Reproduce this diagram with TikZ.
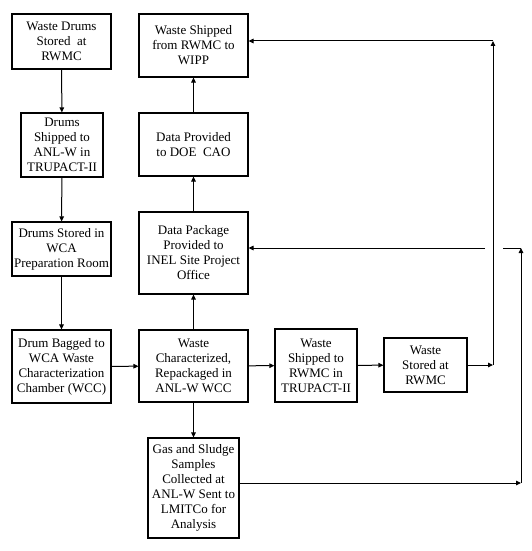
\documentclass[tikz,border=0pt]{standalone}
\usepackage{fontspec}
\setmainfont{Liberation Serif}
\usetikzlibrary{arrows.meta}
\tikzset{
  procbox/.style={draw,line width=1.1pt,align=center,inner sep=0pt,
    font=\fontsize{13}{15}\selectfont},
  flow/.style={line width=1pt,-{Triangle[length=5pt,width=4.5pt]}},
  plain/.style={line width=1pt}
}

\begin{document}
\begin{tikzpicture}[x=1pt,y=-1pt]
  \useasboundingbox (0,0) rectangle (531,551);
  % left column
  \node[procbox,minimum width=99,minimum height=55] (wdrums) at (61.5,41.5) {Waste Drums\\Stored\ \ at\\RWMC};
  \node[procbox,minimum width=82,minimum height=64] (dship) at (62,145) {Drums\\Shipped to\\ANL-W in\\TRUPACT-II};
  \node[procbox,minimum width=99,minimum height=54] (dstore) at (61.5,249) {Drums Stored in\\WCA\\Preparation Room};
  \node[procbox,minimum width=99,minimum height=73] (dbag) at (61.5,366.5) {Drum Bagged to\\WCA Waste\\Characterization\\Chamber (WCC)};
  % middle column
  \node[procbox,minimum width=109,minimum height=63] (wipp) at (193.5,45.5) {Waste Shipped\\from RWMC to\\WIPP};
  \node[procbox,minimum width=109,minimum height=63] (doe) at (193.5,144.5) {Data Provided\\to DOE\ \ CAO};
  \node[procbox,minimum width=109,minimum height=82] (dpkg) at (193.5,253) {Data Package\\Provided to\\INEL Site Project\\Office};
  \node[procbox,minimum width=109,minimum height=72] (wchar) at (193.5,366) {Waste\\Characterized,\\Repackaged in\\ANL-W WCC};
  \node[procbox,minimum width=91,minimum height=100] (gas) at (193.5,488) {Gas and Sludge\\Samples\\Collected at\\ANL-W Sent to\\LMITCo for\\Analysis};
  % right side
  \node[procbox,minimum width=82,minimum height=73] (wship) at (316,365.5) {Waste\\Shipped to\\RWMC in\\TRUPACT-II};
  \node[procbox,minimum width=83,minimum height=54] (wstore) at (425.5,365) {Waste\\Stored at\\RWMC};

  % corners of the return lines
  \coordinate (wturn) at (493,365);
  \coordinate (wtop) at (493,41);
  \coordinate (gturn) at (521,483);
  \coordinate (gtop) at (521,248);
  \coordinate (gapl) at (485,248);
  \coordinate (gapr) at (503,248);

  \draw[flow] (wdrums) -- (dship);
  \draw[flow] (dship) -- (dstore);
  \draw[flow] (dstore) -- (dbag);
  \draw[flow] (dbag) -- (wchar);
  \draw[flow] (wchar) -- (dpkg);
  \draw[flow] (dpkg) -- (doe);
  \draw[flow] (doe) -- (wipp);
  \draw[flow] (wchar) -- (gas);
  \draw[flow] (wchar) -- (wship);
  \draw[flow] (wship) -- (wstore);
  \draw[flow] (wstore) -- (wturn);
  \draw[flow] (wturn) -- (wtop);
  \draw[flow] (wtop) -- (wtop -| wipp.east);
  \draw[flow] (gas.east |- gturn) -- (gturn);
  \draw[flow] (gturn) -- (gtop);
  \draw[plain] (gtop) -- (gapr);
  \draw[flow] (gapl) -- (gapl -| dpkg.east);
\end{tikzpicture}
\end{document}
